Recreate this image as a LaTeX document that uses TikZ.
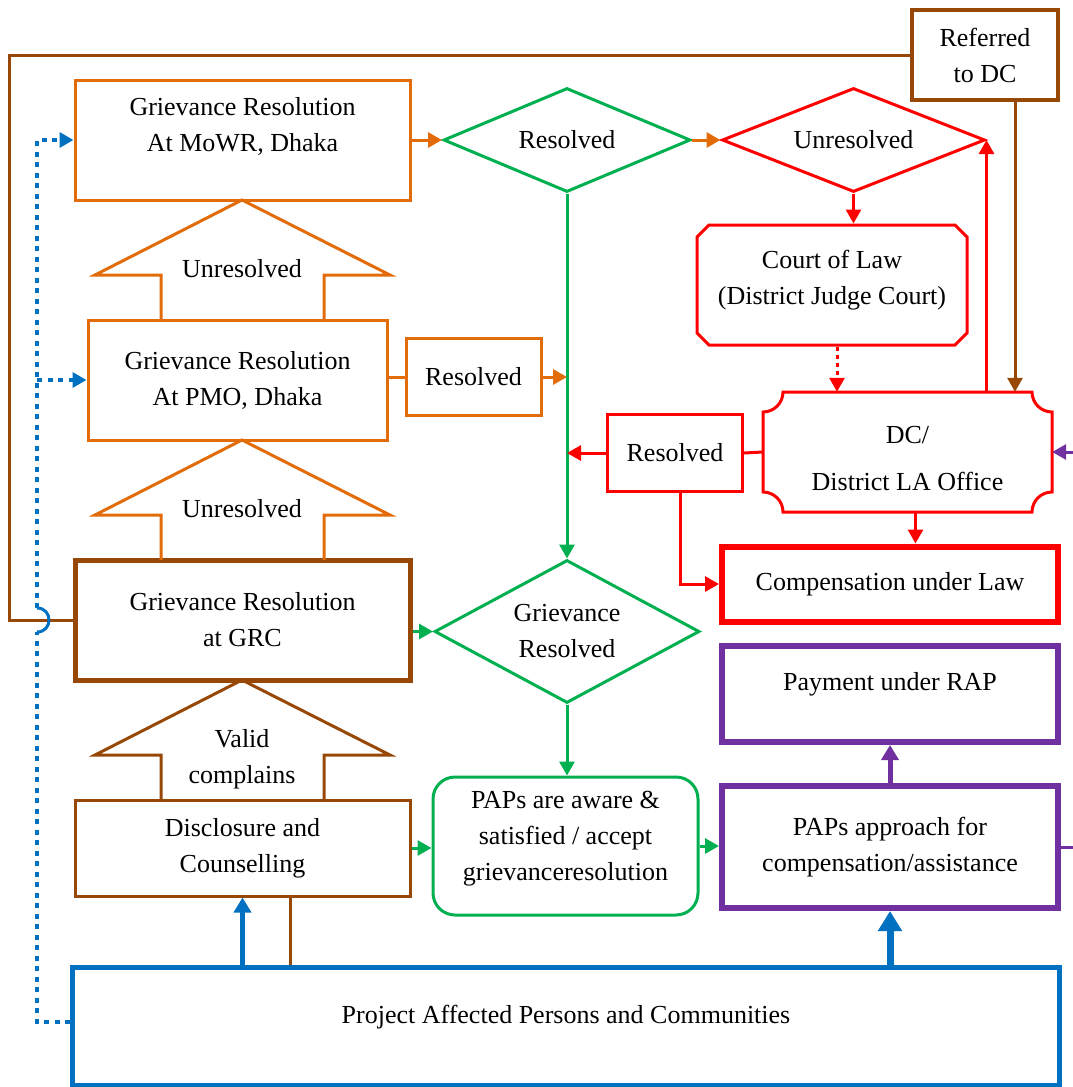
\documentclass[tikz,border=0pt]{standalone}
\usepackage{fontspec}
\setmainfont{Liberation Serif}
\usepackage{tikz}
\usetikzlibrary{arrows.meta,shapes.geometric,shapes.misc}
\definecolor{orange}{RGB}{227,108,10}
\definecolor{brown}{RGB}{152,72,6}
\definecolor{green}{RGB}{0,176,80}
\definecolor{blue}{RGB}{0,112,192}
\definecolor{purple}{RGB}{112,48,160}

\begin{document}
\begin{tikzpicture}[x=1pt,y=-1pt,font=\fontsize{26}{36}\selectfont,
  box/.style={rectangle,draw,line width=3pt,align=center,inner sep=0pt,text=black},
  dia/.style={diamond,draw,line width=3pt,align=center,inner sep=0pt,aspect=2,text=black},
  link/.style={line width=3pt},
  tip/.style={-{Triangle[length=14pt,width=15pt]}},
  bluedot/.style={blue,line width=4pt,dash pattern=on 5pt off 5.5pt}]
\useasboundingbox (0,0) rectangle (1073,1087);

\node[box,draw=orange,minimum width=335pt,minimum height=120pt,text depth=31pt] (mowr) at (242.5,140) {Grievance Resolution\\At MoWR, Dhaka};
\node[box,draw=orange,minimum width=299pt,minimum height=120pt] (pmo) at (237.5,380) {Grievance Resolution\\At PMO, Dhaka};
\node[box,draw=orange,minimum width=135pt,minimum height=77pt] (pmores) at (473.5,377) {Resolved};
\node[box,draw=brown,line width=5pt,minimum width=335pt,minimum height=120pt] (grc) at (242.5,620) {Grievance Resolution\\at GRC};
\node[box,draw=brown,minimum width=335pt,minimum height=96pt] (disc) at (242.5,848) {Disclosure and\\Counselling};
\node[box,draw=blue,line width=5pt,minimum width=987pt,minimum height=118pt,text depth=23pt] (pac) at (566,1026) {Project Affected Persons and Communities};
\node[dia,draw=green,minimum width=247pt,minimum height=104pt] (res1) at (567,140) {Resolved};
\node[dia,draw=red,minimum width=263pt,minimum height=104pt] (unres) at (853.5,140) {Unresolved};
\node[box,chamfered rectangle,chamfered rectangle xsep=6pt,chamfered rectangle ysep=6pt,draw=red,minimum width=270pt,minimum height=120pt,text depth=16pt] (court) at (832,285) {Court of Law\\(District Judge Court)};
\node[box,draw=brown,line width=4pt,minimum width=146pt,minimum height=90pt] (referred) at (985,55) {Referred\\to DC};
\node[align=center,inner sep=0pt,minimum width=289pt,minimum height=120pt,text height=77pt] (dc) at (907.5,452) {DC/\\[11pt]District LA Office};
\node[box,draw=red,minimum width=135pt,minimum height=77pt] (dcres) at (675,453) {Resolved};
\node[box,draw=red,line width=6pt,minimum width=336pt,minimum height=75pt] (comp) at (890,584) {Compensation under Law};
\node[box,draw=purple,line width=6pt,minimum width=336pt,minimum height=96pt,text depth=25pt] (pay) at (890,694) {Payment under RAP};
\node[box,draw=purple,line width=6pt,minimum width=336pt,minimum height=122pt] (papr) at (890,847) {PAPs approach for\\compensation/assistance};
\node[box,draw=green,rounded corners=22pt,minimum width=265pt,minimum height=138pt,text depth=21pt] (aware) at (565.5,846) {PAPs are aware \&\\satisfied / accept\\grievanceresolution};
\node[dia,draw=green,minimum width=265pt,minimum height=143pt] (gres) at (567,631.5) {Grievance\\Resolved};

\draw[red,line width=3pt] (763,412) .. controls (774,412) and (783,403) .. (783,392) -- (1032,392)
  .. controls (1032,403) and (1041,412) .. (1052,412) -- (1052,492)
  .. controls (1041,492) and (1032,501) .. (1032,512) -- (783,512)
  .. controls (783,501) and (774,492) .. (763,492) -- cycle;

\foreach \ty/\by/\bot/\col/\ly/\txt [count=\n] in {200/275/320/orange/269/Unresolved,440/515/560/orange/509/Unresolved,680/755/800/brown/759/{Valid\\complains}}{
  \draw[\col,line width=3pt] (161,\bot) -- (161,\by) -- (95,\by) -- (242,\ty) -- (390,\by) -- (324,\by) -- (324,\bot);
  \node[align=center] (up\n) at (242,\ly) {\txt};
}

\draw[link,orange,tip] (mowr.east) -- (res1.west);
\draw[link,orange,tip] (res1.east) -- (unres.west);
\draw[link,green,tip] (res1.south) -- (gres.north);
\draw[link,orange] (pmo.east |- pmores.west) -- (pmores.west);
\draw[link,orange,tip] (pmores.east) -- (pmores.east -| res1.south);
\draw[link,red,tip] (unres.south) -- (unres.south |- court.north);
\draw[link,red,dash pattern=on 4pt off 4pt,tip] ([xshift=5pt]court.south) -- ([xshift=5pt]court.south |- dc.north);
\draw[link,red,tip] (unres.east |- dc.north) -- (unres.east);
\draw[link,brown,tip] ([xshift=30pt]referred.south) -- ([xshift=30pt]referred.south |- dc.north);
\draw[link,red] (dc.west) -- (dcres.east);
\draw[link,red,tip] (dcres.west) -- (dcres.west -| res1.south);
\draw[link,red,tip] ([xshift=5pt]dcres.south) |- (comp.west);
\draw[link,red,tip] ([xshift=8pt]dc.south) -- ([xshift=8pt]dc.south |- comp.north);
\draw[link,green,tip] (grc.east |- gres.west) -- (gres.west);
\draw[link,green,tip] (gres.south) -- (gres.south |- aware.north);
\draw[link,green,tip] (disc.east) -- (disc.east -| aware.west);
\draw[link,green,tip] (aware.east) -- (aware.east -| papr.west);
\draw[purple,line width=5pt,-{Triangle[length=15pt,width=17pt]}] (papr.north) -- (pay.south);
\draw[link,purple,tip] (papr.east) -- (1090,847) |- (dc.east);
\draw[blue,line width=5pt,-{Triangle[length=15pt,width=17pt]}] (disc.south |- pac.north) -- (disc.south);
\draw[blue,line width=7pt,-{Triangle[length=20pt,width=23pt]}] (papr.south |- pac.north) -- (papr.south);
\draw[link,brown] ([xshift=48pt]disc.south) -- ([xshift=48pt]disc.south |- pac.north);
\draw[link,brown] (grc.west) -- ++(-63,0) |- (referred.west);
\coordinate (vline) at (37,140);
\coordinate (hoplow) at (37,632);
\coordinate (hophigh) at (37,608);
\draw[bluedot] ([yshift=4pt]pac.west) -| (hoplow);
\draw[blue,line width=3pt] (hoplow) .. controls (53,632) and (53,608) .. (hophigh);
\draw[bluedot,tip] (hophigh) |- (mowr.west);
\draw[bluedot,tip] (pmo.west -| vline) -- (pmo.west);
\end{tikzpicture}
\end{document}
